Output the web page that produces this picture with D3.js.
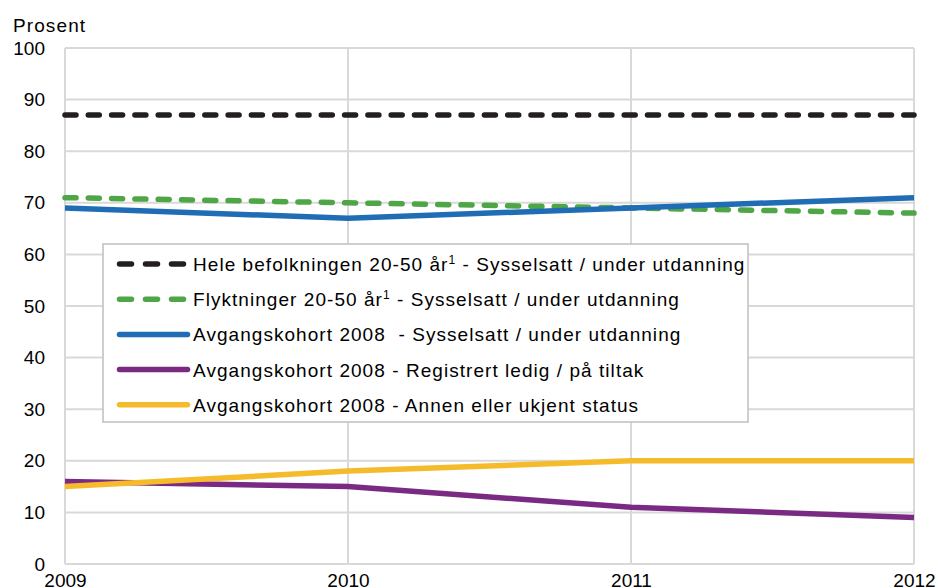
<!DOCTYPE html>
<html>
<head>
<meta charset="utf-8">
<script src="https://cdn.jsdelivr.net/npm/d3@7"></script>
<style>
  body { margin: 0; background: #fff; }
  svg { display: block; font-family: "Liberation Sans", Arial, sans-serif; }
  text { white-space: pre; }
</style>
</head>
<body>
<div id="chart"></div>
<script>
const width = 938;
const height = 588;

// data
const years = [2009, 2010, 2011, 2012];
const yTicks = [0, 10, 20, 30, 40, 50, 60, 70, 80, 90, 100];
const heleBefolkningen = [87, 87, 87, 87];
const flyktninger = [71, 70, 69, 68];
const avgangSysselsatt = [69, 67, 69, 71];
const avgangLedig = [16, 15, 11, 9];
const avgangAnnen = [15, 18, 20, 20];

const seriesNames = [
  ['Hele befolkningen 20-50 år', '1', ' - Sysselsatt / under utdanning'],
  ['Flyktninger 20-50 år', '1', ' - Sysselsatt / under utdanning'],
  ['Avgangskohort 2008  - Sysselsatt / under utdanning'],
  ['Avgangskohort 2008 - Registrert ledig / på tiltak'],
  ['Avgangskohort 2008 - Annen eller ukjent status']
];
const seriesValues = [heleBefolkningen, flyktninger, avgangSysselsatt, avgangLedig, avgangAnnen];
const seriesColors = ['#231f20', '#4ea646', '#1f6db4', '#7b2a83', '#f5bb2a'];
const seriesDashed = [true, true, false, false, false];

const margin = {top: 48, right: 24, bottom: 24, left: 65};

const svg = d3.select('#chart').append('svg').
attr('width', width).
attr('height', height);

const x = d3.scaleLinear().
domain([2009, 2012]).
range([margin.left, width - margin.right]);

const y = d3.scaleLinear().
domain([0, 100]).
range([height - margin.bottom, margin.top]);

//grid lines
svg.append('g').selectAll('line').
data(yTicks).
enter().append('line').
attr('x1', x(2009)).attr('x2', x(2012)).
attr('y1', d => y(d)).attr('y2', d => y(d)).
attr('stroke', '#d9d9d9').
attr('stroke-width', 2);

svg.append('g').selectAll('line').
data(years).
enter().append('line').
attr('x1', d => x(d)).attr('x2', d => x(d)).
attr('y1', y(0)).attr('y2', y(100)).
attr('stroke', '#d9d9d9').
attr('stroke-width', 2);

//axes (labels only, lines drawn as grid)
const yAxis = svg.append('g').
attr('transform', 'translate(' + (margin.left - 20) + ',0)').
call(d3.axisLeft(y).tickValues(yTicks).tickSize(0).tickPadding(0));
yAxis.select('.domain').remove();
yAxis.selectAll('text').
attr('font-size', 19).
attr('font-family', '"Liberation Sans", Arial, sans-serif').
attr('fill', '#000');

const xAxis = svg.append('g').
attr('transform', 'translate(0,' + y(0) + ')').
call(d3.axisBottom(x).tickValues(years).tickFormat(d3.format('d')).tickSize(0).tickPadding(10));
xAxis.select('.domain').remove();
xAxis.selectAll('text').
attr('font-size', 19).
attr('font-family', '"Liberation Sans", Arial, sans-serif').
attr('fill', '#000');

svg.append('text').
attr('x', 13).
attr('y', 32).
attr('font-size', 19).
attr('letter-spacing', 1.1).
text('Prosent');

//lines
const line = d3.line().
x((d, i) => x(years[i])).
y(d => y(d));

seriesValues.forEach((vals, i) => {
  svg.append('path').
  datum(vals).
  attr('d', line).
  attr('fill', 'none').
  attr('stroke', seriesColors[i]).
  attr('stroke-width', 5.5).
  attr('stroke-linecap', seriesDashed[i] ? 'round' : 'butt').
  attr('stroke-dasharray', seriesDashed[i] ? '11,12.3' : null);
});

//legend
const legend = svg.append('g').attr('class', 'legend');
legend.append('rect').
attr('x', 103).
attr('y', 244).
attr('width', 645).
attr('height', 178).
attr('fill', '#fff').
attr('stroke', '#bfbfbf').
attr('stroke-width', 1.5);

seriesNames.forEach((name, i) => {
  const cy = 264 + i * 35.2;
  legend.append('line').
  attr('x1', 119.5).
  attr('x2', seriesDashed[i] ? 183.5 : 187.5).
  attr('y1', cy).attr('y2', cy).
  attr('stroke', seriesColors[i]).
  attr('stroke-width', 5.5).
  attr('stroke-linecap', 'round').
  attr('stroke-dasharray', seriesDashed[i] ? '12,14' : null);

  const t = legend.append('text').
  attr('x', 193).
  attr('y', cy + 7).
  attr('font-size', 19).
  attr('letter-spacing', 1.05).
  attr('fill', '#000');
  t.append('tspan').text(name[0]);
  if (name.length > 1) {
    t.append('tspan').attr('font-size', 12).attr('dy', -7).text(name[1]);
    t.append('tspan').attr('dy', 7).text(name[2]);
  }
});
</script>
</body>
</html>
